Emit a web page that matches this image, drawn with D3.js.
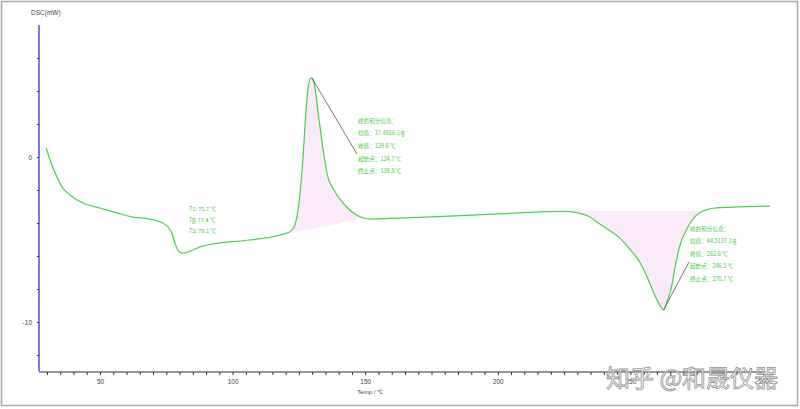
<!DOCTYPE html>
<html><head><meta charset="utf-8">
<script src="https://cdn.jsdelivr.net/npm/d3@7"></script>
<style>html,body{margin:0;padding:0;background:#fff;}svg{display:block;}</style>
</head><body>
<svg id="c" width="800" height="409"></svg>
<script>
// ---- data ----
const temps = [29.7,31.2,33.1,35.7,38.7,43.6,50,56.4,62.4,68.8,73.7,75.6,77.1,78.2,79.4,80.9,83.1,87.7,95.2,106.5,117.8,121.5,123.3,124.6,125.6,126.6,127.5,128.4,129.5,130.2,131.0,132.1,134.0,135.9,137.8,139.6,143.0,146.8,151.7,163.0,181.8,200.7,215.7,225.9,231.0,234.6,238.3,242.1,245.9,249.6,253.4,256.4,259.0,261.0,262.5,264.0,265.5,267.0,268.5,271.1,276.0,282.4,291.0,302.7];
const dsc   = [0.55,-0.18,-0.97,-1.82,-2.30,-2.79,-3.09,-3.39,-3.64,-3.76,-4.00,-4.24,-4.61,-5.21,-5.64,-5.82,-5.76,-5.45,-5.21,-5.03,-4.73,-4.55,-4.20,-3.30,-1.90,0.10,2.40,4.10,4.79,4.73,4.24,2.85,0.61,-1.21,-1.88,-2.36,-3.03,-3.52,-3.76,-3.70,-3.58,-3.45,-3.33,-3.30,-3.42,-3.62,-4.05,-4.45,-4.90,-5.55,-6.35,-7.30,-8.30,-8.95,-9.27,-8.67,-7.88,-6.55,-5.45,-4.42,-3.39,-3.09,-3.03,-2.97];
const xTickLabels = [50,100,150,200,250,300];
const yTickLabels = [0,-10];
// integration baselines [t0, v0, t1, v1]
const peak1Base = [122.7,-4.60,149.8,-3.70];
const peak2Base = [226.0,-3.27,276.5,-3.27];
const tgLabels = ["T1: 75.7 ℃","Tg: 77.4 ℃","T2: 79.1 ℃"];
const peak1Labels = ["峰的积分信息：","焓值：37.4916 J/g","峰值：129.6 ℃","起始点：124.7 ℃","终止点：138.8 ℃"];
const peak2Labels = ["峰的积分信息：","焓值：44.5137 J/g","峰值：262.6 ℃","起始点：246.5 ℃","终止点：270.7 ℃"];
const peaks = [{t:129.5,v:4.79},{t:262.5,v:-9.27}];

const svg = d3.select("#c");
const x = d3.scaleLinear().domain([50,300]).range([100,763]);
const y = d3.scaleLinear().domain([0,-10]).range([157,322]);
const pts = temps.map((t,i)=>({t, v:dsc[i]}));

// frame
svg.append("rect").attr("x",1.5).attr("y",1.5).attr("width",796).attr("height",404)
  .attr("fill","none").attr("stroke","#a8a8a8").attr("stroke-width",1.5);

// fills
function fillBetween(base){
  const [t0,v0,t1,v1]=base;
  const bl = t=> v0+(v1-v0)*(t-t0)/(t1-t0);
  const inner = pts.filter(p=>p.t>t0 && p.t<t1);
  const seg = [{t:t0,v:bl(t0)}, ...inner, {t:t1,v:bl(t1)}];
  const area = d3.area().x(d=>x(d.t)).y0(d=>y(bl(d.t))).y1(d=>y(d.v)).curve(d3.curveMonotoneX);
  svg.append("path").datum(seg).attr("d",area).attr("fill","#fbeafa").attr("stroke","none");
}
fillBetween(peak1Base);
fillBetween(peak2Base);

// axes
const xAxis = d3.axisBottom(x).tickValues(d3.range(30,301,5)).tickSize(3)
  .tickFormat(d=> xTickLabels.includes(d)? d : "");
const gx = svg.append("g").attr("transform","translate(0,372)").call(xAxis);
gx.select(".domain").attr("d",`M${x(27)},0H${x(301)}`).attr("stroke","#333");
gx.selectAll(".tick line").attr("stroke","#333");
gx.selectAll("text").attr("font-family","Liberation Sans, Arial").attr("font-size",6.5).attr("fill","#444").attr("dy","0.9em");

const yAxis = d3.axisLeft(y).tickValues(d3.range(-12,8,2)).tickSize(2)
  .tickFormat(d=> yTickLabels.includes(d)? d : "");
const gy = svg.append("g").attr("transform",`translate(${x(27)},0)`).call(yAxis);
gy.select(".domain").attr("d",`M0,${y(8)}V${y(-13)}`).attr("stroke","#7a7ae0").attr("stroke-width",2);
gy.selectAll(".tick line").attr("stroke","#333");
gy.selectAll("text").attr("font-family","Liberation Sans, Arial").attr("font-size",6.5).attr("fill","#444").attr("dx","-2");

svg.append("text").attr("x",31).attr("y",15).text("DSC(mW)")
  .attr("font-family","Liberation Sans, Arial").attr("font-size",6.5).attr("fill","#444");
svg.append("text").attr("x",x(150)+5).attr("y",394).attr("text-anchor","middle").text("Temp / ℃")
  .attr("font-family","Liberation Sans, Arial").attr("font-size",6).attr("fill","#444");

// curve
const line = d3.line().x(d=>x(d.t)).y(d=>y(d.v)).curve(d3.curveMonotoneX);
svg.append("path").datum(pts).attr("d",line).attr("fill","none")
  .attr("stroke","#4fd04f").attr("stroke-width",1.25);

// leader lines
svg.append("line").attr("x1",x(peaks[0].t)+1).attr("y1",y(peaks[0].v)).attr("x2",357).attr("y2",154)
  .attr("stroke","#666").attr("stroke-width",0.9);
svg.append("line").attr("x1",x(peaks[1].t)).attr("y1",y(peaks[1].v)).attr("x2",689).attr("y2",262)
  .attr("stroke","#666").attr("stroke-width",0.9);

// labels
const lblFont = "'Noto Sans CJK SC', 'Noto Sans', sans-serif";
function block(lines, x0, y0s){
  lines.forEach((s,i)=>svg.append("text").attr("x",x0).attr("y",y0s[i]).text(s)
    .attr("font-family",lblFont).attr("font-size",5.6).attr("fill","#44cc44"));
}
block(tgLabels, 189, [211,222,233]);
block(peak1Labels, 358, [123,135,148,161,173]);
block(peak2Labels, 690, [231,243,256,268,281]);

// watermark
svg.append("text").attr("x",606).attr("y",387).text("知乎 @和晟仪器")
  .attr("font-family",lblFont).attr("font-size",24).attr("fill","#fff")
  .attr("stroke","#8a8a8a").attr("stroke-width",0.8).attr("opacity",0.9);
</script>
</body></html>
